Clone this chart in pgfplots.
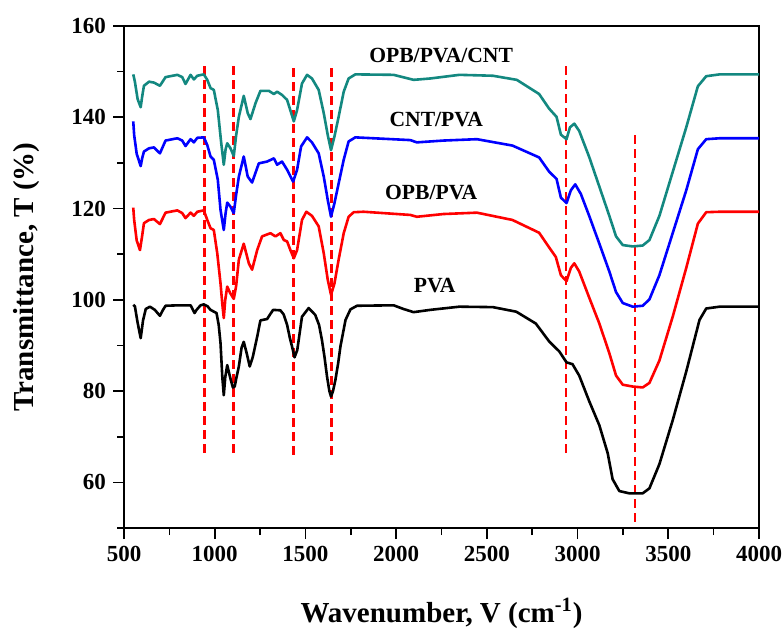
\documentclass[border=0pt]{standalone}
\usepackage{pgfplots}
\pgfplotsset{compat=1.18}
\usepackage{fontspec}
\setmainfont{Liberation Serif}
\definecolor{tealc}{RGB}{19,136,128}
\begin{document}
\begin{tikzpicture}
\begin{axis}[
  scale only axis, width=317.5pt, height=251pt,
  xmin=500, xmax=4000, ymin=50, ymax=160,
  xtick={500,1000,...,4000}, ytick={60,80,...,160},
  minor xtick={750,1250,...,3750}, minor ytick={50,70,...,150},
  xtick pos=bottom, ytick pos=left, tick align=outside,
  major tick length=5.5pt, minor tick length=3.5pt,
  every tick/.style={line width=0.8pt, black},
  axis line style={line width=0.8pt},
  /pgf/number format/assume math mode=true,
  /pgf/number format/set thousands separator={},
  ticklabel style={font=\bfseries\fontsize{11.5}{12}\selectfont},
  xlabel={Wavenumber, V (cm\textsuperscript{-1})},
  ylabel={Transmittance, T (\%)},
  every axis x label/.style={at={(axis description cs:0.5,0)}, anchor=base, yshift=-47pt, font=\bfseries\fontsize{14.5}{16}\selectfont},
  every axis y label/.style={at={(axis description cs:-0.1433,0.5)}, anchor=base, rotate=90, font=\bfseries\fontsize{14.5}{16}\selectfont},
  clip=false,
]
% dashed reference lines
\addplot[red, line width=1.4pt, dash pattern=on 4.5pt off 2.5pt] coordinates {(942,66.5)(942,152.3)};
\addplot[red, line width=1.4pt, dash pattern=on 4.5pt off 2.5pt] coordinates {(1104,66.5)(1104,152.3)};
\addplot[red, line width=1.4pt, dash pattern=on 4.5pt off 2.5pt] coordinates {(1434,66.1)(1434,151.5)};
\addplot[red, line width=1.4pt, dash pattern=on 4.5pt off 2.5pt] coordinates {(1643,66.1)(1643,151.8)};
\addplot[red, line width=1.4pt, dash pattern=on 4.5pt off 2.5pt] coordinates {(2936,66.4)(2936,152.0)};
\addplot[red, line width=1.4pt, dash pattern=on 4.5pt off 2.5pt] coordinates {(3316,51.4)(3316,137.2)};
% PVA
\addplot[black, line width=1.3pt, line join=round] coordinates {
(551,98.9)(560,98.6)(575,95)(592,91.6)(605,95.5)(620,98)(643,98.5)(670,97.8)(698,96.5)(715,97.8)(729,98.7)(800,98.8)(867,98.8)(880,97.8)(889,97.1)(900,97.8)(922,98.8)(940,99.0)(960,98.6)(977,97.8)(1010,97.1)(1022,94.5)(1032,90.5)(1042,83)(1050,79.1)(1058,83)(1069,85.7)(1085,83)(1100,80.8)(1110,81)(1120,83)(1133,85.4)(1148,89.5)(1160,90.8)(1175,88.5)(1193,85.4)(1210,87.5)(1234,91.9)(1252,95.5)(1289,95.8)(1305,96.8)(1322,97.8)(1362,97.7)(1380,96.8)(1399,94.5)(1415,91.5)(1426,89.8)(1440,87.4)(1455,89)(1481,96.3)(1518,98.2)(1554,96.7)(1575,94.5)(1591,91.2)(1605,87.5)(1619,83.2)(1632,80)(1641,78.8)(1652,80)(1665,82.4)(1680,86)(1693,89.8)(1721,95.6)(1748,97.9)(1784,98.7)(1986,98.8)(2040,98)(2096,97.3)(2188,97.8)(2349,98.5)(2533,98.4)(2662,97.4)(2770,94.8)(2843,90.9)(2899,88.7)(2939,86.3)(2972,85.9)(3009,83.4)(3064,77.8)(3120,72.5)(3166,66.4)(3193,60.7)(3230,58.1)(3285,57.6)(3359,57.6)(3396,58.7)(3451,64.0)(3525,73.7)(3599,84.3)(3672,95.6)(3709,98.1)(3783,98.5)(4000,98.5)};
% OPB/PVA
\addplot[red, line width=1.3pt, line join=round] coordinates {
(551,120.2)(556,117.5)(570,113)(588,110.9)(600,114)(610,116.8)(638,117.5)(665,117.7)(698,116.6)(729,119.1)(794,119.6)(821,119.0)(839,117.9)(867,119.1)(885,118.4)(904,119.3)(940,119.6)(959,117.5)(977,115.7)(995,115.3)(1014,110.2)(1032,103.6)(1042,99)(1050,96)(1058,100)(1069,102.9)(1085,101.5)(1105,100.2)(1118,103)(1133,108.8)(1160,112.3)(1188,108.0)(1206,106.6)(1234,110.9)(1261,113.9)(1307,114.6)(1335,113.9)(1362,114.6)(1381,113.1)(1399,112.8)(1417,110.9)(1436,109.1)(1454,110.9)(1481,117.5)(1505,119.3)(1536,118.4)(1573,116.1)(1601,110.2)(1623,104.4)(1641,101.1)(1660,103.6)(1683,108.8)(1711,114.6)(1738,118.2)(1766,119.2)(1821,119.3)(2078,118.6)(2114,118.2)(2261,118.8)(2445,119.1)(2641,117.5)(2788,114.7)(2843,111.5)(2880,109.4)(2908,105.4)(2939,104.1)(2963,107)(2982,108.0)(3009,106.2)(3064,100.5)(3120,94.8)(3175,88.3)(3212,83.4)(3249,81.4)(3304,81.0)(3359,80.8)(3396,81.8)(3451,86.7)(3525,96.4)(3599,107.0)(3663,116.7)(3709,119.2)(3783,119.3)(4000,119.3)};
% CNT/PVA
\addplot[blue, line width=1.3pt, line join=round] coordinates {
(551,139.1)(556,136.1)(570,132)(592,129.3)(600,131)(610,132.5)(638,133.2)(665,133.4)(698,132.1)(729,134.9)(794,135.4)(821,134.9)(839,133.7)(867,135.2)(885,134.5)(904,135.5)(940,135.6)(959,133.9)(977,131.4)(995,130.7)(1017,126.3)(1032,119.7)(1050,115.3)(1060,119)(1069,121.3)(1087,120.4)(1105,119.0)(1118,123)(1133,127.0)(1160,131.4)(1182,127.0)(1206,125.7)(1243,129.9)(1289,130.3)(1326,131.0)(1344,129.6)(1371,130.3)(1399,128.5)(1432,125.9)(1454,128.5)(1476,133.6)(1509,135.6)(1536,134.5)(1573,132.1)(1601,127.0)(1623,121.9)(1641,118.2)(1660,121.2)(1683,125.5)(1711,130.7)(1738,134.7)(1775,135.6)(2078,135.0)(2114,134.5)(2261,134.9)(2445,135.2)(2641,133.8)(2788,131.2)(2843,128.1)(2884,126.5)(2908,122.4)(2939,121.2)(2963,124.0)(2987,125.3)(3018,123.2)(3064,118.4)(3120,112.3)(3175,106.2)(3212,101.7)(3249,99.3)(3304,98.5)(3359,98.7)(3396,100.1)(3451,105.4)(3525,114.7)(3599,124.0)(3663,133.0)(3709,135.2)(3783,135.4)(4000,135.4)};
% OPB/PVA/CNT
\addplot[tealc, line width=1.3pt, line join=round] coordinates {
(551,149.4)(560,147.8)(575,144)(592,142.2)(600,144.5)(610,146.9)(638,147.8)(665,147.6)(698,146.9)(729,148.8)(794,149.3)(821,148.8)(839,147.3)(867,149.3)(885,148.3)(904,149.1)(940,149.4)(959,148.2)(977,146.4)(995,146.0)(1017,141.6)(1036,134.3)(1050,129.6)(1060,133)(1069,134.3)(1087,133.2)(1105,131.5)(1118,136)(1133,140.1)(1160,144.7)(1182,140.9)(1197,139.6)(1225,143.1)(1252,145.8)(1298,145.8)(1326,145.1)(1344,145.6)(1371,144.9)(1399,143.8)(1436,139.1)(1454,141.6)(1481,147.4)(1509,149.3)(1536,148.5)(1573,146.0)(1601,140.9)(1623,136.1)(1641,132.8)(1660,135.8)(1683,140.1)(1711,145.6)(1738,148.5)(1775,149.4)(1986,149.3)(2096,148.2)(2188,148.5)(2349,149.3)(2533,149.1)(2665,148.2)(2788,145.1)(2843,141.9)(2884,140.1)(2908,136.2)(2939,135.2)(2958,137.8)(2982,138.6)(3009,137.0)(3064,131.3)(3120,124.8)(3175,118.4)(3212,113.9)(3249,112.0)(3304,111.7)(3359,111.9)(3396,113.1)(3451,118.4)(3525,128.1)(3599,137.8)(3663,146.8)(3709,149.0)(3783,149.4)(4000,149.4)};
\node[font=\bfseries\fontsize{10.8}{12}\selectfont] at (axis cs:2248,153.6) {OPB/PVA/CNT};
\node[font=\bfseries\fontsize{10.8}{12}\selectfont] at (axis cs:2221,139.5) {CNT/PVA};
\node[font=\bfseries\fontsize{10.8}{12}\selectfont] at (axis cs:2193,123.5) {OPB/PVA};
\node[font=\bfseries\fontsize{10.8}{12}\selectfont] at (axis cs:2212,103.2) {PVA};
\end{axis}
\pgfresetboundingbox
\path[use as bounding box] ([shift={(-62pt,-50pt)}]current axis.south west) rectangle ([shift={(12pt,13pt)}]current axis.north east);
\end{tikzpicture}
\end{document}
